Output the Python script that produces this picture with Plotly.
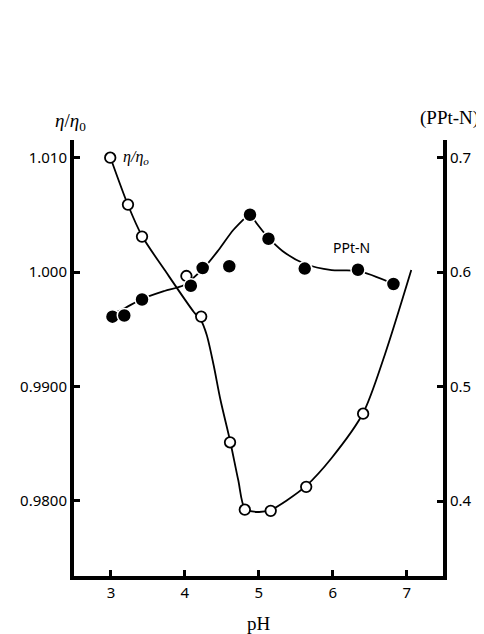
import plotly.graph_objects as go

# ---- data ----
# relative viscosity eta/eta0 (left axis), open circles
ph_eta = [2.99, 3.23, 3.42, 4.02, 4.22, 4.61, 4.81, 5.16, 5.64, 6.41]
eta = [1.0100, 1.0059, 1.0031, 0.99965, 0.9961, 0.9851, 0.9792, 0.9791, 0.9812, 0.9876]

# hand-drawn smooth curve through eta/eta0 points
ph_eta_curve = [2.99, 3.23, 3.42, 3.75, 4.12, 4.215, 4.295, 4.388, 4.481, 4.614,
                4.721, 4.814, 4.987, 5.16, 5.386, 5.638, 5.984, 6.41, 6.70, 7.061]
eta_curve = [1.01006, 1.00586, 1.00315, 0.99995, 0.99650, 0.99580, 0.99449, 0.99186,
             0.98880, 0.98513, 0.98180, 0.97927, 0.97900, 0.97918, 0.98005, 0.98128, 0.98373,
             0.98766, 0.99270, 1.00017]

# PPt-N (right axis), filled circles
ph_ppt = [3.02, 3.18, 3.42, 4.08, 4.24, 4.60, 4.88, 5.13, 5.62, 6.34, 6.82]
ppt = [0.561, 0.562, 0.576, 0.588, 0.6035, 0.605, 0.650, 0.629, 0.603, 0.602, 0.5895]

# hand-drawn curve through PPt-N points (rising part, falling part)
ph_ppt_rise = [3.019, 3.191, 3.418, 3.723, 3.989, 4.255, 4.455, 4.654, 4.880]
ppt_rise = [0.5633, 0.5686, 0.5764, 0.5834, 0.5886, 0.6035, 0.6192, 0.6367, 0.6515]
ph_ppt_fall = [4.880, 4.987, 5.133, 5.319, 5.625, 5.984, 6.343, 6.822]
ppt_fall = [0.6515, 0.6410, 0.6297, 0.6183, 0.6070, 0.6017, 0.6009, 0.5895]

x_ticks = [3, 4, 5, 6, 7]
y_ticks = [0.980, 0.990, 1.000, 1.010]
y_ticktext = ["0.9800", "0.9900", "1.000", "1.010"]
y2_ticks = [0.4, 0.5, 0.6, 0.7]
y2_ticktext = ["0.4", "0.5", "0.6", "0.7"]

SANS = "Noto Sans"
SERIF = "Liberation Serif"

fig = go.Figure()

line_style = dict(color="black", width=1.8, shape="spline", smoothing=0.8)
fig.add_trace(go.Scatter(x=ph_eta_curve, y=eta_curve, mode="lines", line=line_style,
                         hoverinfo="skip", showlegend=False))
fig.add_trace(go.Scatter(x=ph_ppt_rise, y=ppt_rise, mode="lines", yaxis="y2", line=line_style,
                         hoverinfo="skip", showlegend=False))
fig.add_trace(go.Scatter(x=ph_ppt_fall, y=ppt_fall, mode="lines", yaxis="y2", line=line_style,
                         hoverinfo="skip", showlegend=False))
fig.add_trace(go.Scatter(x=ph_ppt, y=ppt, mode="markers", yaxis="y2",
                         marker=dict(symbol="circle", size=14, color="black",
                                     line=dict(color="white", width=1.5)),
                         showlegend=False))
fig.add_trace(go.Scatter(x=ph_eta, y=eta, mode="markers",
                         marker=dict(symbol="circle", size=10.5, color="white",
                                     line=dict(color="black", width=1.8)),
                         showlegend=False))

axis_font = dict(family=SANS, size=15, color="black")
common = dict(showgrid=False, zeroline=False, showline=True, linecolor="black", linewidth=4,
              ticks="inside", ticklen=6, tickwidth=3, tickcolor="black", tickfont=axis_font)

fig.update_layout(
    width=476, height=626,
    margin=dict(l=60, r=41, t=132, b=58),
    paper_bgcolor="white", plot_bgcolor="white",
    showlegend=False,
    xaxis=dict(range=[2.5, 7.49], tickvals=x_ticks, ticktext=[str(v) for v in x_ticks], **common),
    yaxis=dict(range=[0.97340, 1.01155], tickvals=y_ticks, ticktext=y_ticktext, **common),
    yaxis2=dict(range=[0.33450, 0.71528], tickvals=y2_ticks, ticktext=y2_ticktext,
                overlaying="y", side="right", anchor="x", **common),
    annotations=[
        dict(text="<i>η</i>/<i>η</i><sub>0</sub>", xref="paper", yref="paper",
             x=-0.056, y=1.041, xanchor="left", yanchor="middle", showarrow=False,
             font=dict(family=SERIF, size=19, color="black")),
        dict(text="(PPt-N)", xref="paper", yref="paper",
             x=1.104, y=1.050, xanchor="right", yanchor="middle", showarrow=False,
             font=dict(family=SERIF, size=19, color="black")),
        dict(text="pH", xref="paper", yref="paper",
             x=0.5, y=-0.110, xanchor="center", yanchor="middle", showarrow=False,
             font=dict(family=SERIF, size=19, color="black")),
        dict(text="<i>η/η<sub>o</sub></i>", xref="x", yref="y",
             x=3.14, y=1.0100, xanchor="left", yanchor="middle", showarrow=False,
             font=dict(family=SERIF, size=16, color="black")),
        dict(text="PPt-N", xref="x", yref="y2",
             x=6.25, y=0.6218, xanchor="center", yanchor="middle", showarrow=False,
             font=dict(family=SANS, size=14, color="black")),
    ],
)

fig.write_html("out.html")
